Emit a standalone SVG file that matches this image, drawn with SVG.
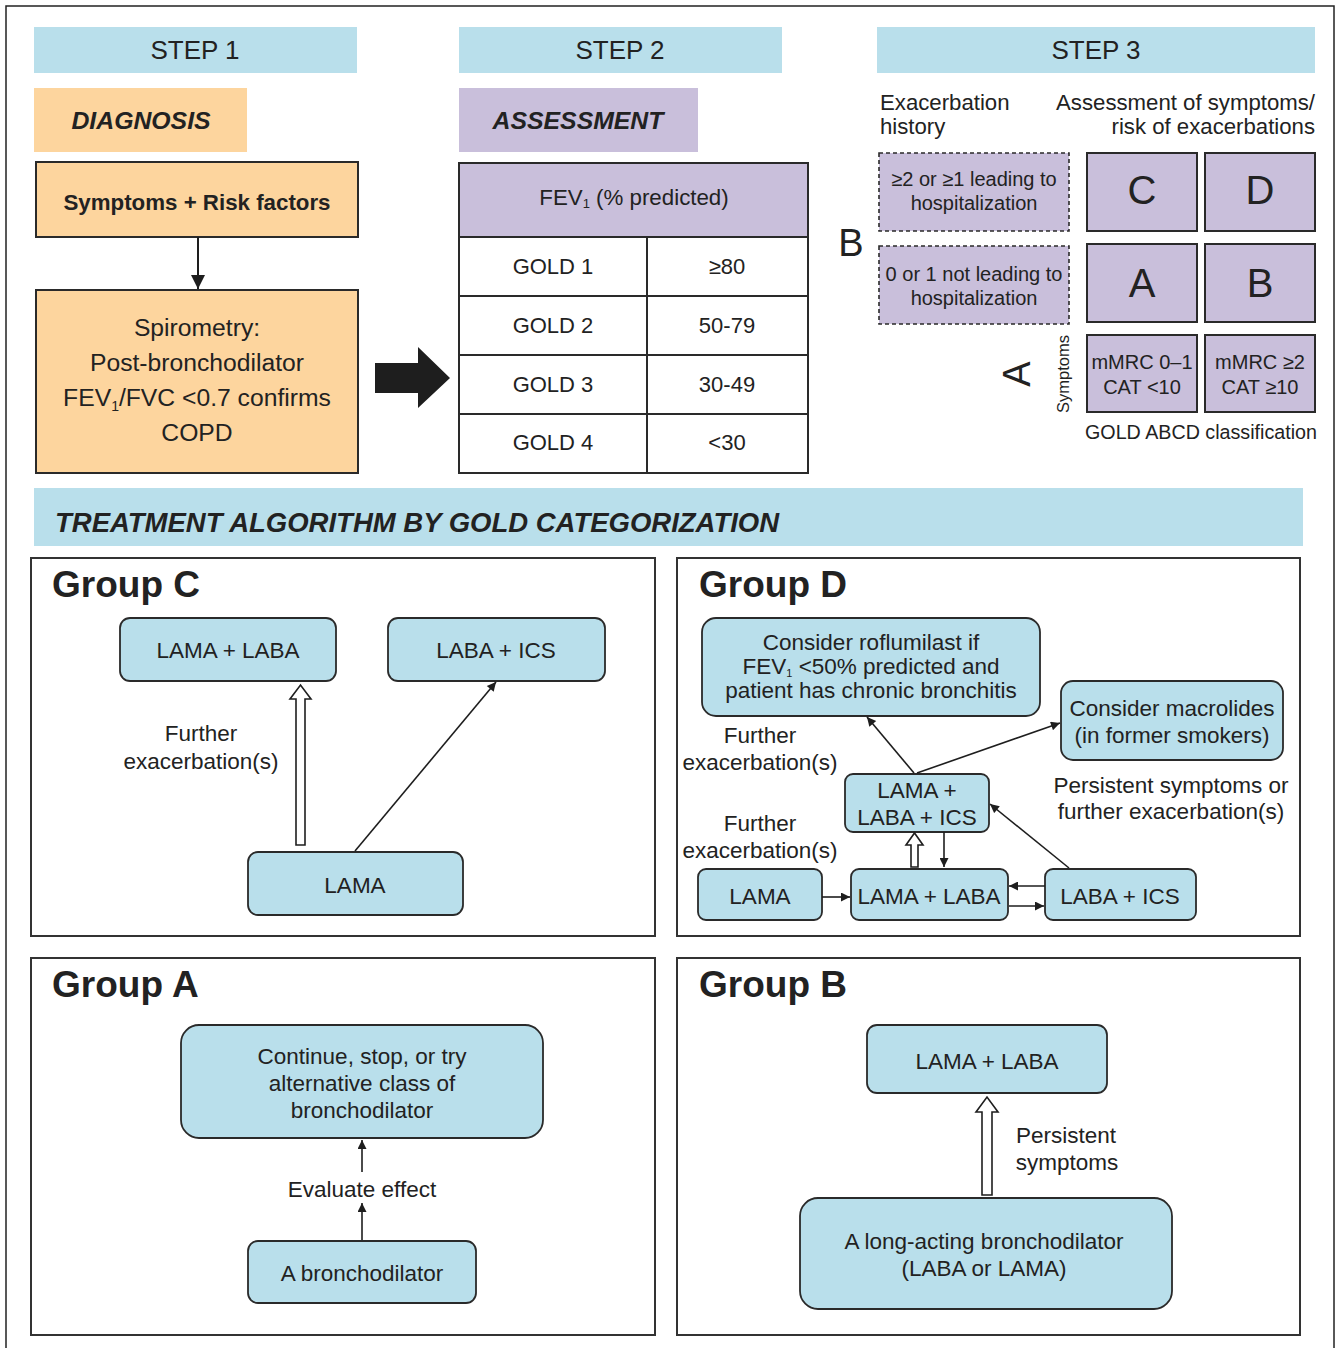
<svg xmlns="http://www.w3.org/2000/svg" width="1337" height="1348" viewBox="0 0 1337 1348">
  <defs>
    <marker id="ah" viewBox="0 0 10 10" refX="10" refY="5" markerWidth="11" markerHeight="9" markerUnits="userSpaceOnUse" orient="auto">
      <path d="M0,0 L10,5 L0,10 z" fill="#1e1e1e"/>
    </marker>
    <marker id="ahBig" viewBox="0 0 10 10" refX="10" refY="5" markerWidth="16" markerHeight="14" markerUnits="userSpaceOnUse" orient="auto">
      <path d="M0,0 L10,5 L0,10 z" fill="#1e1e1e"/>
    </marker>
  </defs>
  <style>
    text { font-family: "Liberation Sans", Arial, Helvetica, sans-serif; fill: #222; }
    .hdr { fill: #b9dfeb; }
    .step { font-size: 26px; text-anchor: middle; }
    .tag { font-size: 24.8px; font-weight: bold; font-style: italic; text-anchor: middle; }
    .orange { fill: #fdd59e; stroke: #2a2a2a; stroke-width: 2; }
    .lav { fill: #c9bfdb; stroke: #2a2a2a; stroke-width: 2; }
    .dash { fill: #c9bfdb; stroke: #2a2a2a; stroke-width: 1.6; stroke-dasharray: 4 3; }
    .cell { fill: #ffffff; stroke: #2a2a2a; stroke-width: 2; }
    .grp { fill: #ffffff; stroke: #333; stroke-width: 2; }
    .node { fill: #b9dfeb; stroke: #2a2a2a; stroke-width: 1.8; }
    .gt { font-size: 37px; font-weight: bold; }
    .t22 { font-size: 22px; text-anchor: middle; }
    .tn { font-size: 22.5px; text-anchor: middle; }
    .t20 { font-size: 20px; text-anchor: middle; }
    .big { font-size: 40px; text-anchor: middle; }
    .ln { fill: none; stroke: #1e1e1e; stroke-width: 1.6; marker-end: url(#ah); }
    .hollow { fill: #ffffff; stroke: #1e1e1e; stroke-width: 1.6; }
  </style>

  <!-- outer frame -->
  <rect x="6" y="6" width="1328" height="1360" fill="#ffffff" stroke="#222" stroke-width="1.5"/>

  <!-- ===== Step 1 : diagnosis ===== -->
  <g id="step1">
    <rect class="hdr" x="34" y="27" width="323" height="46"/>
    <text class="step" x="195" y="59">STEP 1</text>
    <rect x="34" y="88" width="213" height="64" fill="#fdd59e"/>
    <text class="tag" x="141" y="129">DIAGNOSIS</text>
  </g>
  <g id="symptoms-risk">
    <rect class="orange" x="36" y="162" width="322" height="75"/>
    <text x="197" y="210" font-size="22.3" font-weight="bold" text-anchor="middle">Symptoms + Risk factors</text>
  </g>
  <g id="spirometry">
    <rect class="orange" x="36" y="290" width="322" height="183"/>
    <text x="197" y="336" font-size="24.7" text-anchor="middle">Spirometry:</text>
    <text x="197" y="371" font-size="24.7" text-anchor="middle">Post-bronchodilator</text>
    <text x="197" y="406" font-size="24.7" text-anchor="middle">FEV<tspan font-size="14" dy="5">1</tspan><tspan dy="-5">/FVC &lt;0.7 confirms</tspan></text>
    <text x="197" y="441" font-size="24.7" text-anchor="middle">COPD</text>
  </g>

  <!-- ===== Step 2 : assessment ===== -->
  <g id="step2">
    <rect class="hdr" x="459" y="27" width="323" height="46"/>
    <text class="step" x="620" y="59">STEP 2</text>
    <rect x="459" y="88" width="239" height="64" fill="#c9bfdb"/>
    <text class="tag" x="578" y="129">ASSESSMENT</text>
  </g>
  <g id="fev1-table">
    <rect class="lav" x="459" y="163" width="349" height="74"/>
    <text x="634" y="205" font-size="22.3" text-anchor="middle">FEV<tspan font-size="13" dy="3">1</tspan><tspan dy="-3"> (% predicted)</tspan></text>
    <rect class="cell" x="459" y="237" width="188" height="59"/>
    <rect class="cell" x="647" y="237" width="161" height="59"/>
    <rect class="cell" x="459" y="296" width="188" height="59"/>
    <rect class="cell" x="647" y="296" width="161" height="59"/>
    <rect class="cell" x="459" y="355" width="188" height="59"/>
    <rect class="cell" x="647" y="355" width="161" height="59"/>
    <rect class="cell" x="459" y="414" width="188" height="59"/>
    <rect class="cell" x="647" y="414" width="161" height="59"/>
    <text class="t22" x="553" y="274">GOLD 1</text>
    <text class="t22" x="727" y="274">≥80</text>
    <text class="t22" x="553" y="333">GOLD 2</text>
    <text class="t22" x="727" y="333">50-79</text>
    <text class="t22" x="553" y="392">GOLD 3</text>
    <text class="t22" x="727" y="392">30-49</text>
    <text class="t22" x="553" y="450">GOLD 4</text>
    <text class="t22" x="727" y="450">&lt;30</text>
  </g>

  <!-- ===== Step 3 : ABCD classification ===== -->
  <g id="step3">
    <rect class="hdr" x="877" y="27" width="438" height="46"/>
    <text class="step" x="1096" y="59">STEP 3</text>
    <text x="880" y="110" font-size="22.2">Exacerbation</text>
    <text x="880" y="134" font-size="22.2">history</text>
    <text x="1315" y="110" font-size="22.2" text-anchor="end">Assessment of symptoms/</text>
    <text x="1315" y="134" font-size="22.2" text-anchor="end">risk of exacerbations</text>
  </g>
  <g id="exac-high">
    <rect class="dash" x="879" y="153" width="190" height="78"/>
    <text class="t20" x="974" y="186">≥2 or ≥1 leading to</text>
    <text class="t20" x="974" y="210">hospitalization</text>
  </g>
  <g id="exac-low">
    <rect class="dash" x="879" y="246" width="190" height="78"/>
    <text class="t20" x="974" y="281">0 or 1 not leading to</text>
    <text class="t20" x="974" y="305">hospitalization</text>
  </g>
  <g id="axis-labels">
    <text x="851" y="256" font-size="38" text-anchor="middle">B</text>
    <text x="1030" y="374" font-size="38" text-anchor="middle" transform="rotate(-90 1030 374)">A</text>
    <text x="1069" y="374" font-size="16.5" text-anchor="middle" transform="rotate(-90 1069 374)">Symptoms</text>
  </g>
  <g id="cell-C">
    <rect class="lav" x="1087" y="153" width="110" height="78"/>
    <text class="big" x="1142" y="204">C</text>
  </g>
  <g id="cell-D">
    <rect class="lav" x="1205" y="153" width="110" height="78"/>
    <text class="big" x="1260" y="204">D</text>
  </g>
  <g id="cell-A">
    <rect class="lav" x="1087" y="244" width="110" height="78"/>
    <text class="big" x="1142" y="297">A</text>
  </g>
  <g id="cell-B">
    <rect class="lav" x="1205" y="244" width="110" height="78"/>
    <text class="big" x="1260" y="297">B</text>
  </g>
  <g id="cell-low-symptoms">
    <rect class="lav" x="1087" y="335" width="110" height="77"/>
    <text class="t20" x="1142" y="369">mMRC 0–1</text>
    <text class="t20" x="1142" y="394">CAT &lt;10</text>
  </g>
  <g id="cell-high-symptoms">
    <rect class="lav" x="1205" y="335" width="110" height="77"/>
    <text class="t20" x="1260" y="369">mMRC ≥2</text>
    <text class="t20" x="1260" y="394">CAT ≥10</text>
  </g>
  <text x="1201" y="439" font-size="19.7" text-anchor="middle">GOLD ABCD classification</text>

  <!-- ===== Treatment banner ===== -->
  <g id="treatment-banner">
    <rect class="hdr" x="34" y="488" width="1269" height="58"/>
    <text x="55" y="532" font-size="27.5" font-weight="bold" font-style="italic">TREATMENT ALGORITHM BY GOLD CATEGORIZATION</text>
  </g>

  <!-- ===== Group panels ===== -->
  <g id="group-C">
    <rect class="grp" x="31" y="558" width="624" height="378"/>
    <text class="gt" x="52" y="597">Group C</text>
  </g>
  <g id="group-D">
    <rect class="grp" x="677" y="558" width="623" height="378"/>
    <text class="gt" x="699" y="597">Group D</text>
  </g>
  <g id="group-A">
    <rect class="grp" x="31" y="958" width="624" height="377"/>
    <text class="gt" x="52" y="997">Group A</text>
  </g>
  <g id="group-B">
    <rect class="grp" x="677" y="958" width="623" height="377"/>
    <text class="gt" x="699" y="997">Group B</text>
  </g>

  <!-- Group C nodes -->
  <g id="c-lama-laba">
    <rect class="node" x="120" y="618" width="216" height="63" rx="10"/>
    <text class="tn" x="228" y="658">LAMA + LABA</text>
  </g>
  <g id="c-laba-ics">
    <rect class="node" x="388" y="618" width="217" height="63" rx="10"/>
    <text class="tn" x="496" y="658">LABA + ICS</text>
  </g>
  <g id="c-lama">
    <rect class="node" x="248" y="852" width="215" height="63" rx="10"/>
    <text class="tn" x="355" y="893">LAMA</text>
  </g>
  <text class="tn" x="201" y="741">Further</text>
  <text class="tn" x="201" y="769">exacerbation(s)</text>

  <!-- Group D nodes -->
  <g id="d-roflumilast">
    <rect class="node" x="702" y="618" width="338" height="98" rx="14"/>
    <text class="tn" x="871" y="650">Consider roflumilast if</text>
    <text class="tn" x="871" y="674">FEV<tspan font-size="11" dy="3">1</tspan><tspan dy="-3"> &lt;50% predicted and</tspan></text>
    <text class="tn" x="871" y="698">patient has chronic bronchitis</text>
  </g>
  <g id="d-macrolides">
    <rect class="node" x="1061" y="681" width="222" height="79" rx="12"/>
    <text class="tn" x="1172" y="716">Consider macrolides</text>
    <text class="tn" x="1172" y="743">(in former smokers)</text>
  </g>
  <g id="d-triple">
    <rect class="node" x="845" y="774" width="144" height="58" rx="8"/>
    <text class="tn" x="917" y="798">LAMA +</text>
    <text class="tn" x="917" y="825">LABA + ICS</text>
  </g>
  <g id="d-lama">
    <rect class="node" x="698" y="869" width="124" height="51" rx="8"/>
    <text class="tn" x="760" y="904">LAMA</text>
  </g>
  <g id="d-lama-laba">
    <rect class="node" x="851" y="869" width="157" height="51" rx="8"/>
    <text class="tn" x="929" y="904">LAMA + LABA</text>
  </g>
  <g id="d-laba-ics">
    <rect class="node" x="1045" y="869" width="151" height="51" rx="8"/>
    <text class="tn" x="1120" y="904">LABA + ICS</text>
  </g>
  <text class="tn" x="760" y="743">Further</text>
  <text class="tn" x="760" y="770">exacerbation(s)</text>
  <text class="tn" x="760" y="831">Further</text>
  <text class="tn" x="760" y="858">exacerbation(s)</text>
  <text class="tn" x="1171" y="793">Persistent symptoms or</text>
  <text class="tn" x="1171" y="819">further exacerbation(s)</text>

  <!-- Group A nodes -->
  <g id="a-continue">
    <rect class="node" x="181" y="1025" width="362" height="113" rx="18"/>
    <text class="tn" x="362" y="1064">Continue, stop, or try</text>
    <text class="tn" x="362" y="1091">alternative class of</text>
    <text class="tn" x="362" y="1118">bronchodilator</text>
  </g>
  <g id="a-bronchodilator">
    <rect class="node" x="248" y="1241" width="228" height="62" rx="10"/>
    <text class="tn" x="362" y="1281">A bronchodilator</text>
  </g>
  <text class="tn" x="362" y="1197">Evaluate effect</text>

  <!-- Group B nodes -->
  <g id="b-lama-laba">
    <rect class="node" x="867" y="1025" width="240" height="68" rx="10"/>
    <text class="tn" x="987" y="1069">LAMA + LABA</text>
  </g>
  <g id="b-long-acting">
    <rect class="node" x="800" y="1198" width="372" height="111" rx="18"/>
    <text class="tn" x="984" y="1249">A long-acting bronchodilator</text>
    <text class="tn" x="984" y="1276">(LABA or LAMA)</text>
  </g>
  <text class="tn" x="1066" y="1143">Persistent</text>
  <text class="tn" x="1067" y="1170">symptoms</text>

  <!-- ===== Connectors ===== -->
  <g id="connectors">
    <!-- step 1 -->
    <line x1="198" y1="237" x2="198" y2="289" stroke="#1e1e1e" stroke-width="2" marker-end="url(#ahBig)"/>
    <polygon points="375,363 418,363 418,347 450,378 418,408 418,393 375,393" fill="#1e1e1e"/>

    <!-- Group C -->
    <polygon class="hollow" points="296,845 296,699 290,699 300.5,685 311,699 305,699 305,845"/>
    <line class="ln" x1="355" y1="851" x2="496" y2="682"/>

    <!-- Group D -->
    <line class="ln" x1="914" y1="773" x2="867" y2="717"/>
    <line class="ln" x1="917" y1="773" x2="1060" y2="723"/>
    <polygon class="hollow" points="911,867 911,845 906,845 914.5,833 923,845 918,845 918,867"/>
    <line class="ln" x1="944" y1="832" x2="944" y2="867"/>
    <line class="ln" x1="822" y1="897" x2="850" y2="897"/>
    <line class="ln" x1="1045" y1="886" x2="1009" y2="886"/>
    <line class="ln" x1="1009" y1="906" x2="1044" y2="906"/>
    <line class="ln" x1="1069" y1="868" x2="990" y2="804"/>

    <!-- Group A -->
    <line class="ln" x1="362" y1="1172" x2="362" y2="1140"/>
    <line class="ln" x1="362" y1="1240" x2="362" y2="1203"/>

    <!-- Group B -->
    <polygon class="hollow" points="982,1195 982,1112 976,1112 987,1097 998,1112 992,1112 992,1195"/>
  </g>
</svg>
